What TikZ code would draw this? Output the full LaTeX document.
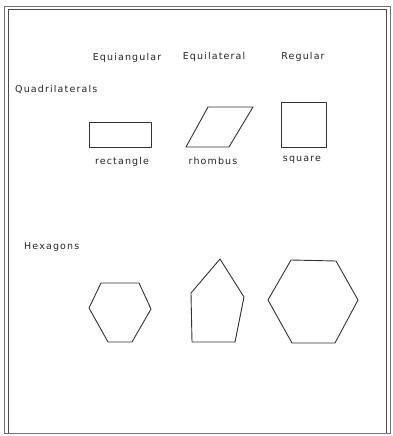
\documentclass[tikz,border=0pt]{standalone}
\usepackage{fontspec}
\setmainfont{DejaVu Sans}[LetterSpace=12]
\begin{document}
\begin{tikzpicture}[x=1pt,y=-1pt]
\tikzset{
  lbl/.style={font=\fontsize{9.5}{11}\selectfont, text=black!85, inner sep=0pt},
  shp/.style={draw=black!80, line width=0.9pt, line join=round},
  frm/.style={draw=black!70, line width=1pt}
}
\useasboundingbox (0,0) rectangle (392,436);
\fill[white] (0,0) rectangle (392,436);
% frame
\draw[frm, draw=black!55, line width=0.8pt] (4,6) rectangle (390,433);
\draw[frm] (8,10) -- (386,10) -- (386,433);
\draw[frm] (8,10) -- (8,433);
% column headings
\node[lbl] (eqa) at (127,58) {Equiangular};
\node[lbl] (eql) at (214,57) {Equilateral};
\node[lbl] (reg) at (303,57) {Regular};
% row labels
\node[lbl, anchor=west] (quad) at (15,90) {Quadrilaterals};
\node[lbl, anchor=west] (hex) at (24,247) {Hexagons};
% quadrilaterals
\draw[shp] (89,122) rectangle (151,147);
\draw[shp] (186,147) -- (229,147) -- (253,107) -- (208,107) -- cycle;
\draw[shp] (281,102) rectangle (326,147);
\node[lbl] (rect) at (122,162) {rectangle};
\node[lbl] (rhom) at (213,161) {rhombus};
\node[lbl] (sq) at (302,160) {square};
% hexagons
\draw[shp] (101,283) -- (139,283) -- (151,309) -- (132,342) -- (108,342) -- (89,308) -- cycle;
\draw[shp] (220,259) -- (244,297) -- (235,342) -- (192,342) -- (191,293) -- cycle;
\draw[shp] (291,260) -- (336,261) -- (358,300) -- (335,343) -- (292,343) -- (268,300) -- cycle;
\end{tikzpicture}
\end{document}
